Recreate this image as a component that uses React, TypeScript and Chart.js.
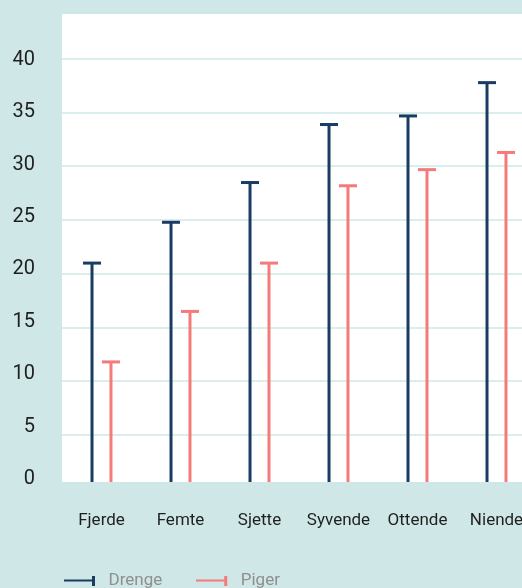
import { useEffect, useRef } from "react";
import { Chart, registerables } from "chart.js";

Chart.register(...registerables);
Chart.defaults.font.family = "Roboto, 'DejaVu Sans', sans-serif";

// Grade levels and the two series (share, %)
const grades = ["Fjerde", "Femte", "Sjette", "Syvende", "Ottende", "Niende"];
const boys = [21.0, 24.8, 28.5, 33.9, 34.7, 37.8];
const girls = [11.8, 16.5, 21.0, 28.2, 29.7, 31.3];
const yTicks = [0, 5, 10, 15, 20, 25, 30, 35, 40];

const NAVY = "#1a3c62";
const SALMON = "#f47b7a";
const PAGE_BG = "#cfe7e6";
const GRID = "#dbeeee";

// Legend symbol: a short line ending in a small upright stroke
function legendIcon(color: string): HTMLCanvasElement {
  const c = document.createElement("canvas");
  c.width = 36;
  c.height = 10;
  const g = c.getContext("2d")!;
  g.fillStyle = color;
  g.fillRect(0, 4, 30, 2);
  g.fillRect(28, 0, 3, 10);
  return c;
}

// White plot background
const plotBackground = {
  id: "plotBackground",
  beforeDraw(chart: any) {
    const { ctx, chartArea } = chart;
    ctx.save();
    ctx.fillStyle = "#ffffff";
    ctx.fillRect(chartArea.left, chartArea.top, chartArea.width, chartArea.height);
    ctx.restore();
  },
};

// Horizontal cap on top of every stem
const stemCaps = {
  id: "stemCaps",
  afterDatasetsDraw(chart: any) {
    const ctx = chart.ctx;
    ctx.save();
    chart.data.datasets.forEach((ds: any, i: number) => {
      const meta = chart.getDatasetMeta(i);
      meta.data.forEach((bar: any) => {
        const { x, y } = bar.getProps(["x", "y"], true);
        ctx.fillStyle = ds.backgroundColor;
        ctx.fillRect(x - 9, y - 1.5, 18, 3);
      });
    });
    ctx.restore();
  },
};

// Indent the bottom legend so it starts under the plot
const legendIndent = {
  id: "legendIndent",
  afterLayout(chart: any) {
    const lg = chart.legend;
    if (lg) {
      lg.left += 30;
      lg.right += 30;
    }
  },
};

export default function App() {
  const ref = useRef<HTMLCanvasElement>(null);

  useEffect(() => {
    const icons = [legendIcon(NAVY), legendIcon(SALMON)];
    const setTicks = (s: any) => {
      s.ticks = yTicks.map((v) => ({ value: v }));
    };
    const chart = new Chart(ref.current!, {
      type: "bar",
      data: {
        labels: grades,
        datasets: [
          { label: "Drenge", data: boys, backgroundColor: NAVY, clip: 0 } as any,
          { label: "Piger", data: girls, backgroundColor: SALMON, clip: 0 } as any,
        ],
      },
      options: {
        responsive: false,
        animation: false,
        events: [],
        datasets: {
          bar: {
            categoryPercentage: 0.48,
            barPercentage: 1,
            maxBarThickness: 3,
            borderWidth: 0,
          },
        },
        layout: { padding: { top: 14, left: 0, right: 0, bottom: 0 } },
        plugins: {
          legend: {
            position: "bottom",
            align: "start",
            labels: {
              usePointStyle: true,
              pointStyleWidth: 36,
              padding: 34,
              color: "#8f8f8f",
              font: { size: 17 },
              generateLabels: (c: any) =>
                c.data.datasets.map((ds: any, i: number) => ({
                  text: ds.label,
                  pointStyle: icons[i],
                  fillStyle: "rgba(0,0,0,0)",
                  strokeStyle: "rgba(0,0,0,0)",
                  lineWidth: 0,
                  hidden: false,
                  datasetIndex: i,
                  fontColor: "#8f8f8f",
                })),
            },
          },
          tooltip: { enabled: false },
        },
        scales: {
          x: {
            grid: { display: false, drawTicks: true, tickLength: 29 },
            border: { display: false },
            ticks: {
              color: "#1f1f1f",
              font: { size: 17 },
              padding: 0,
              autoSkip: false,
              maxRotation: 0,
            },
            afterFit: (s: any) => {
              s.height = 56;
            },
          },
          y: {
            type: "linear",
            position: "left",
            min: 0.62,
            max: 44.19,
            grid: {
              color: (c: any) => (c.tick && c.tick.value === 0 ? "rgba(0,0,0,0)" : GRID),
              lineWidth: 2,
              drawTicks: false,
            },
            border: { display: false },
            ticks: { display: false, stepSize: 5, padding: 0 },
            afterBuildTicks: setTicks,
            afterFit: (s: any) => {
              s.width = 0;
            },
          },
          yLabels: {
            type: "linear",
            axis: "y",
            position: "left",
            min: -0.29,
            max: 44.39,
            grid: { display: false, drawTicks: true, tickLength: 27 },
            border: { display: false },
            ticks: { color: "#1f1f1f", font: { size: 20 }, padding: 0, stepSize: 5 },
            afterBuildTicks: setTicks,
            afterFit: (s: any) => {
              s.width = 62;
            },
          },
        } as any,
      },
      plugins: [plotBackground, stemCaps, legendIndent],
    });
    return () => chart.destroy();
  }, []);

  return (
    <div
      style={{
        position: "fixed",
        left: 0,
        top: 0,
        width: 522,
        height: 588,
        overflow: "hidden",
        background: PAGE_BG,
      }}
    >
      <canvas ref={ref} width={536} height={599} style={{ display: "block" }} />
    </div>
  );
}
